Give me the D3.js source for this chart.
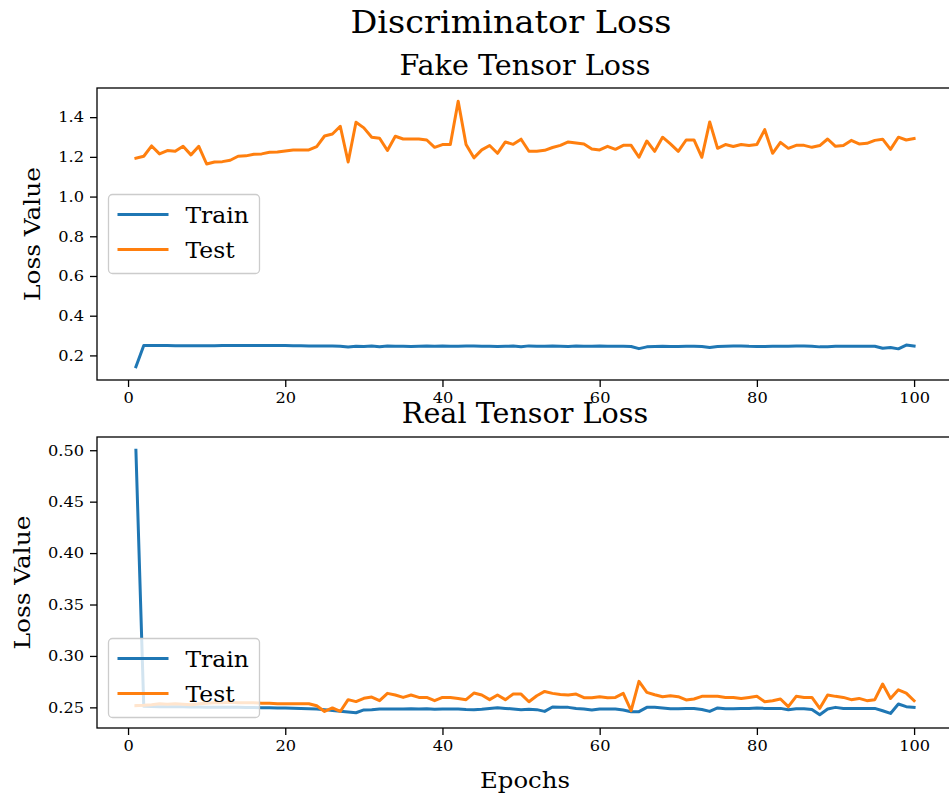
<!DOCTYPE html>
<html>
<head>
<meta charset="utf-8">
<script src="https://cdn.jsdelivr.net/npm/d3@7"></script>
<style>
  html, body { margin: 0; padding: 0; background: #fff; }
  svg { display: block; }
  text { font-family: "DejaVu Serif", serif; fill: #000; }
</style>
</head>
<body>
<svg id="chart" width="949" height="799"></svg>
<script>
// Epochs 1..100
const epochs = d3.range(1, 101);

// Fake tensor loss per epoch
const fakeTrain = [
  0.143, 0.250, 0.250, 0.250, 0.250, 0.249, 0.249, 0.249, 0.249, 0.249,
  0.249, 0.250, 0.250, 0.250, 0.250, 0.250, 0.250, 0.250, 0.250, 0.250,
  0.249, 0.249, 0.248, 0.248, 0.247, 0.247, 0.246, 0.242, 0.246, 0.245,
  0.247, 0.244, 0.247, 0.246, 0.246, 0.245, 0.246, 0.247, 0.246, 0.248,
  0.246, 0.246, 0.247, 0.248, 0.246, 0.246, 0.245, 0.246, 0.247, 0.244,
  0.248, 0.246, 0.246, 0.247, 0.246, 0.245, 0.247, 0.246, 0.246, 0.247,
  0.246, 0.246, 0.246, 0.245, 0.234, 0.243, 0.245, 0.246, 0.245, 0.245,
  0.246, 0.246, 0.245, 0.240, 0.245, 0.246, 0.247, 0.248, 0.246, 0.245,
  0.245, 0.246, 0.246, 0.246, 0.247, 0.247, 0.246, 0.243, 0.244, 0.246,
  0.246, 0.246, 0.246, 0.246, 0.246, 0.236, 0.240, 0.233, 0.252, 0.247
];
const fakeTest = [
  1.193, 1.203, 1.255, 1.215, 1.232, 1.228, 1.253, 1.210, 1.253, 1.164,
  1.174, 1.176, 1.183, 1.203, 1.205, 1.213, 1.215, 1.223, 1.225, 1.230,
  1.235, 1.235, 1.235, 1.252, 1.305, 1.315, 1.354, 1.174, 1.374, 1.346,
  1.299, 1.294, 1.232, 1.304, 1.290, 1.290, 1.290, 1.285, 1.248, 1.262,
  1.262, 1.480, 1.262, 1.195, 1.235, 1.257, 1.218, 1.275, 1.263, 1.289,
  1.228, 1.228, 1.233, 1.247, 1.258, 1.275, 1.270, 1.265, 1.240, 1.235,
  1.253, 1.238, 1.258, 1.258, 1.198, 1.280, 1.228, 1.299, 1.265, 1.228,
  1.285, 1.285, 1.198, 1.376, 1.243, 1.262, 1.252, 1.262, 1.257, 1.262,
  1.337, 1.218, 1.273, 1.243, 1.258, 1.258, 1.248, 1.257, 1.290, 1.253,
  1.257, 1.283, 1.265, 1.268, 1.283, 1.289, 1.238, 1.299, 1.285, 1.292
];

// Real tensor loss per epoch
const realTrain = [
  0.5000, 0.2510, 0.2508, 0.2507, 0.2506, 0.2505, 0.2505, 0.2504, 0.2503, 0.2502,
  0.2502, 0.2501, 0.2500, 0.2500, 0.2499, 0.2498, 0.2497, 0.2496, 0.2495, 0.2494,
  0.2492, 0.2490, 0.2487, 0.2484, 0.2478, 0.2470, 0.2462, 0.2455, 0.2448, 0.2475,
  0.2478, 0.2484, 0.2483, 0.2484, 0.2484, 0.2486, 0.2484, 0.2486, 0.2481, 0.2485,
  0.2484, 0.2484, 0.2480, 0.2478, 0.2482, 0.2490, 0.2497, 0.2490, 0.2484, 0.2478,
  0.2482, 0.2478, 0.2461, 0.2503, 0.2500, 0.2500, 0.2490, 0.2484, 0.2474, 0.2484,
  0.2484, 0.2484, 0.2474, 0.2458, 0.2458, 0.2500, 0.2500, 0.2494, 0.2487, 0.2487,
  0.2490, 0.2490, 0.2480, 0.2461, 0.2494, 0.2487, 0.2487, 0.2490, 0.2490, 0.2494,
  0.2490, 0.2490, 0.2490, 0.2477, 0.2487, 0.2487, 0.2480, 0.2428, 0.2484, 0.2500,
  0.2490, 0.2490, 0.2490, 0.2490, 0.2490, 0.2467, 0.2441, 0.2533, 0.2507, 0.2500
];
const realTest = [
  0.2517, 0.2520, 0.2525, 0.2535, 0.2530, 0.2535, 0.2530, 0.2525, 0.2535, 0.2540,
  0.2545, 0.2545, 0.2550, 0.2545, 0.2545, 0.2545, 0.2540, 0.2540, 0.2535, 0.2535,
  0.2535, 0.2535, 0.2535, 0.2515, 0.2460, 0.2494, 0.2460, 0.2575, 0.2556, 0.2588,
  0.2600, 0.2565, 0.2636, 0.2620, 0.2597, 0.2620, 0.2597, 0.2597, 0.2565, 0.2597,
  0.2597, 0.2587, 0.2575, 0.2639, 0.2620, 0.2575, 0.2620, 0.2575, 0.2629, 0.2629,
  0.2555, 0.2613, 0.2655, 0.2636, 0.2626, 0.2620, 0.2629, 0.2594, 0.2594, 0.2604,
  0.2594, 0.2597, 0.2636, 0.2468, 0.2753, 0.2646, 0.2623, 0.2604, 0.2613, 0.2604,
  0.2572, 0.2581, 0.2607, 0.2607, 0.2607, 0.2597, 0.2597, 0.2587, 0.2597, 0.2607,
  0.2555, 0.2565, 0.2581, 0.2507, 0.2607, 0.2597, 0.2597, 0.2491, 0.2620, 0.2607,
  0.2597, 0.2575, 0.2587, 0.2565, 0.2575, 0.2727, 0.2587, 0.2671, 0.2639, 0.2565
];

// Tick labels
const xTicks = [0, 20, 40, 60, 80, 100];
const fakeYTicks = [0.2, 0.4, 0.6, 0.8, 1.0, 1.2, 1.4];
const realYTicks = [0.25, 0.30, 0.35, 0.40, 0.45, 0.50];

const seriesNames = ["Train", "Test"];
const colors = ["#1f77b4", "#ff7f0e"];

const svg = d3.select("#chart");

// text with a slightly widened glyph set
function label(parent, x, y, str, size, sx, anchor, rot) {
  const g = parent.append("g")
    .attr("transform", `translate(${x},${y})` + (rot ? ` rotate(${rot})` : ""));
  return g.append("text")
    .attr("transform", `scale(${sx},1)`)
    .attr("text-anchor", anchor || "middle")
    .style("font-size", size + "px")
    .text(str);
}

label(svg, 511, 33, "Discriminator Loss", 31, 1.08);

// padded extent, like an autoscaled axis
function padded(arrs) {
  const all = arrs.flat();
  const [lo, hi] = d3.extent(all);
  const m = (hi - lo) * 0.05;
  return [lo - m, hi + m];
}

function panel(opts) {
  const { left, right, top, bottom, title, titleY, series, yTicks, yFmt, yLabelX, xLabel, legend } = opts;
  const g = svg.append("g");

  const x = d3.scaleLinear().domain(padded([epochs])).range([left, right]);
  const y = d3.scaleLinear().domain(padded(series)).range([bottom, top]);

  const clipId = "clip" + Math.round(top);
  svg.append("clipPath").attr("id", clipId)
    .append("rect").attr("x", left).attr("y", top)
    .attr("width", right - left).attr("height", bottom - top);

  const line = d3.line().x((d, i) => x(epochs[i])).y(d => y(d));
  series.forEach((s, k) => {
    g.append("path")
      .datum(s)
      .attr("clip-path", `url(#${clipId})`)
      .attr("fill", "none")
      .attr("stroke", colors[k])
      .attr("stroke-width", 3)
      .attr("stroke-linejoin", "round")
      .attr("stroke-linecap", "square")
      .attr("d", line);
  });

  // axes
  const xAxis = d3.axisBottom(x).tickValues(xTicks).tickSize(7).tickPadding(5).tickFormat(d3.format("d"));
  const yAxis = d3.axisLeft(y).tickValues(yTicks).tickSize(7).tickPadding(5).tickFormat(d3.format(yFmt));

  const gx = g.append("g").attr("transform", `translate(0,${bottom})`).call(xAxis);
  const gy = g.append("g").attr("transform", `translate(${left},0)`).call(yAxis);
  [gx, gy].forEach(a => {
    a.select(".domain").remove();
    a.selectAll("line").attr("stroke", "#000").attr("stroke-width", 1.3);
    a.selectAll("text")
      .style("font-size", "15px")
      .style("font-family", "DejaVu Serif")
      .attr("fill", "#000")
      .attr("transform", "scale(1.08,1)");
  });

  // frame
  g.append("rect")
    .attr("x", left).attr("y", top)
    .attr("width", right - left).attr("height", bottom - top)
    .attr("fill", "none").attr("stroke", "#000").attr("stroke-width", 1.3);

  label(g, (left + right) / 2, titleY, title, 27, 1.06);
  label(g, yLabelX, (top + bottom) / 2, "Loss Value", 23, 1.08, "middle", -90);

  if (xLabel) {
    label(g, (left + right) / 2, bottom + 60, xLabel, 23, 1.06);
  }

  // legend
  const lg = g.append("g");
  lg.append("rect")
    .attr("x", legend.x).attr("y", legend.y)
    .attr("width", 151).attr("height", 79)
    .attr("rx", 4)
    .attr("fill", "#fff").attr("fill-opacity", 0.8)
    .attr("stroke", "#cccccc").attr("stroke-width", 1.3);
  seriesNames.forEach((name, k) => {
    const ly = legend.y + 20 + k * 35;
    lg.append("line")
      .attr("x1", legend.x + 9).attr("x2", legend.x + 60)
      .attr("y1", ly).attr("y2", ly)
      .attr("stroke", colors[k]).attr("stroke-width", 3);
    label(lg, legend.x + 77, ly + 8, name, 21.5, 1.09, "start");
  });
}

panel({
  left: 97, right: 953, top: 88, bottom: 380,
  title: "Fake Tensor Loss", titleY: 75,
  series: [fakeTrain, fakeTest],
  yTicks: fakeYTicks, yFmt: ".1f", yLabelX: 40,
  legend: { x: 108.5, y: 194.5 }
});

panel({
  left: 97, right: 953, top: 437, bottom: 728,
  title: "Real Tensor Loss", titleY: 423,
  series: [realTrain, realTest],
  yTicks: realYTicks, yFmt: ".2f", yLabelX: 30,
  xLabel: "Epochs",
  legend: { x: 108.5, y: 638.5 }
});
</script>
</body>
</html>
